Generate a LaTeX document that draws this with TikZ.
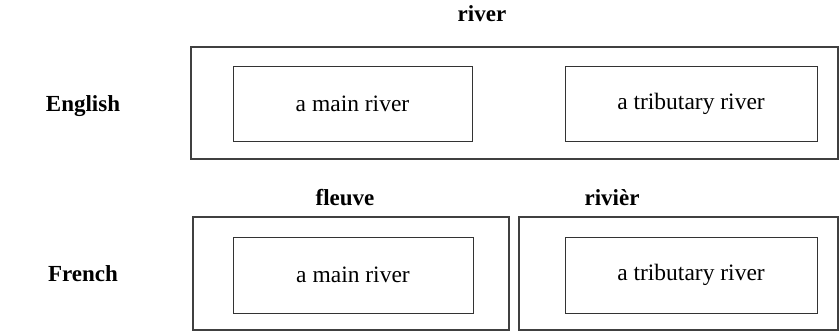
\documentclass[tikz,border=0pt]{standalone}
\usepackage{fontspec}
\setmainfont{Liberation Serif}
\begin{document}
\begin{tikzpicture}[x=1pt,y=-1pt,
  outerbox/.style={draw=black!75,line width=2.6pt,inner sep=0pt},
  innerbox/.style={draw=black!80,line width=0.9pt,inner sep=0pt,font=\fontsize{23.5}{26}\selectfont},
  lbl/.style={font=\bfseries\fontsize{23}{26}\selectfont,inner sep=0pt}]
\useasboundingbox (0,0) rectangle (840,331);
% English
\node[lbl] (river) at (482,14) {river};
\node[lbl] (english) at (83,106) {English};
\draw[outerbox] (191,47) rectangle (838,159);
\node[innerbox,minimum width=239pt,minimum height=75pt] (em) at (352.5,103.5) {a main river};
\node[innerbox,minimum width=252pt,minimum height=75pt] (et) at (691,103.5) {a tributary river};
% French
\node[lbl] (fleuve) at (345,198) {fleuve};
\node[lbl] (riviere) at (612,198) {rivièr};
\node[lbl] (french) at (83,274) {French};
\draw[outerbox] (193,217) rectangle (509,330);
\draw[outerbox] (519,217) rectangle (838,330);
\node[innerbox,minimum width=240pt,minimum height=76pt] (fm) at (353,275) {a main river};
\node[innerbox,minimum width=252pt,minimum height=76pt] (ft) at (691,275) {a tributary river};
\end{tikzpicture}
\end{document}
